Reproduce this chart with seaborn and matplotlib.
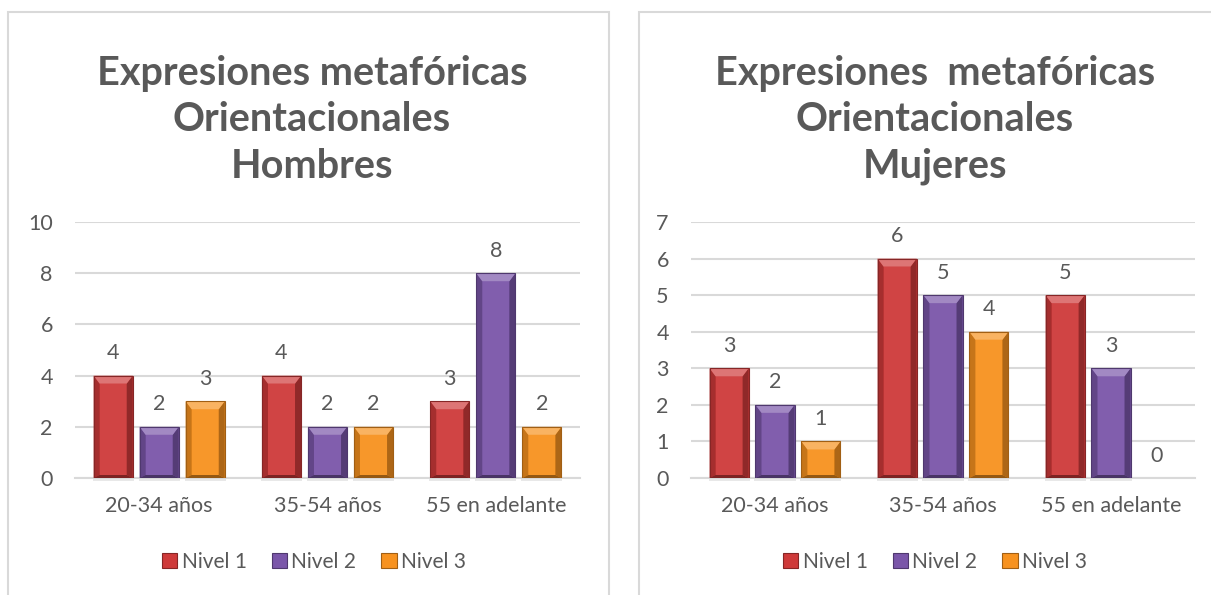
import matplotlib
matplotlib.use("Agg")
import matplotlib.pyplot as plt
import seaborn as sns
import pandas as pd
from matplotlib.patches import Polygon, Rectangle, Patch
from matplotlib.colors import to_rgb

# ---- data ----
groups = ["20-34 años", "35-54 años", "55 en adelante"]
levels = ["Nivel 1", "Nivel 2", "Nivel 3"]

hombres_nivel1 = [4, 4, 3]
hombres_nivel2 = [2, 2, 8]
hombres_nivel3 = [3, 2, 2]

mujeres_nivel1 = [3, 6, 5]
mujeres_nivel2 = [2, 5, 3]
mujeres_nivel3 = [1, 4, 0]

hombres_yticks = [0, 2, 4, 6, 8, 10]
mujeres_yticks = [0, 1, 2, 3, 4, 5, 6, 7]

hombres_title = ["Expresiones metafóricas", "Orientacionales", "Hombres"]
mujeres_title = ["Expresiones  metafóricas", "Orientacionales", "Mujeres"]

level_colors = {"Nivel 1": "#CE3A3A", "Nivel 2": "#7A56A9", "Nivel 3": "#F7921F"}
TEXT = "#595959"
GRID = "#D9D9D9"

sns.set_theme(style="white")
plt.rcParams["font.family"] = ["Lato", "DejaVu Sans"]

W, H, DPI = 1211, 595, 100
fig = plt.figure(figsize=(W / DPI, H / DPI), dpi=DPI)
fig.patch.set_facecolor("white")


def frame(x_px, y_px, w_px, h_px):
    """Axes rectangle from pixel box (top-left origin)."""
    return [x_px / W, 1 - (y_px + h_px) / H, w_px / W, h_px / H]


def tint(color, f):
    r, g, b = to_rgb(color)
    if f >= 0:
        return (r + (1 - r) * f, g + (1 - g) * f, b + (1 - b) * f)
    return (r * (1 + f), g * (1 + f), b * (1 + f))


def build_frame(n1, n2, n3):
    rows = []
    for lvl, vals in zip(levels, [n1, n2, n3]):
        for g, v in zip(groups, vals):
            rows.append({"grupo": g, "nivel": lvl, "valor": v})
    return pd.DataFrame(rows)


def bevel(ax):
    """Add a beveled look to every bar: light top face, darker sides and base."""
    pos = ax.get_position()
    ax_w = pos.width * W
    ax_h = pos.height * H
    x0, x1 = ax.get_xlim()
    y0, y1 = ax.get_ylim()
    dx = (x1 - x0) / ax_w
    dy = (y1 - y0) / ax_h
    for cont, lvl in zip(ax.containers, levels):
        base = level_colors[lvl]
        for bar in cont:
            h = bar.get_height()
            if h <= 0:
                continue
            bx0 = bar.get_x()
            bx1 = bx0 + bar.get_width()
            bxw = 6 * dx
            top = min(8 * dy, h * 0.45)
            bot = min(3 * dy, h * 0.2)
            # soft shadow under the bar
            ax.add_patch(Rectangle((bx0 - 1 * dx, -3 * dy), bx1 - bx0 + 2 * dx, 3 * dy,
                                   fc="#E8E8E8", ec="none", zorder=1.5, clip_on=False))
            # lighter central band of the face
            ax.add_patch(Rectangle((bx0 + bxw, bot), bx1 - bx0 - 2 * bxw, h - top - bot,
                                   fc=tint(base, 0.05), ec="none", zorder=3.1))
            ax.add_patch(Polygon([(bx0, 0), (bx0, h), (bx0 + bxw, h - top), (bx0 + bxw, bot)],
                                 closed=True, fc=tint(base, -0.2), ec="none", zorder=3.2))
            ax.add_patch(Polygon([(bx1, 0), (bx1, h), (bx1 - bxw, h - top), (bx1 - bxw, bot)],
                                 closed=True, fc=tint(base, -0.3), ec="none", zorder=3.2))
            ax.add_patch(Polygon([(bx0, 0), (bx1, 0), (bx1 - bxw, bot), (bx0 + bxw, bot)],
                                 closed=True, fc=tint(base, -0.4), ec="none", zorder=3.2))
            ax.add_patch(Polygon([(bx0, h), (bx1, h), (bx1 - bxw, h - top), (bx0 + bxw, h - top)],
                                 closed=True, fc=tint(base, 0.3), ec="none", zorder=3.3))
            ax.add_patch(Polygon([(bx0, 0), (bx1, 0), (bx1, h), (bx0, h)],
                                 closed=True, fc="none", ec=tint(base, -0.35),
                                 lw=0.8, zorder=3.4))


def panel(ax, df, yticks, title_lines, title_x, legend_x):
    sns.barplot(data=df, x="grupo", y="valor", hue="nivel", hue_order=levels,
                order=groups, palette=level_colors, width=0.82, gap=0.15,
                saturation=1, legend=False, ax=ax, zorder=3, edgecolor="none")
    ax.set_xlim(-0.5, len(groups) - 0.5)
    ax.set_ylim(0, yticks[-1])
    ax.set_yticks(yticks)
    ax.set_xlabel("")
    ax.set_ylabel("")
    ax.grid(axis="y", color=GRID, lw=1.5, zorder=0)
    ax.grid(axis="x", visible=False)
    ax.set_axisbelow(True)
    for s in ["top", "right", "left"]:
        ax.spines[s].set_visible(False)
    ax.spines["bottom"].set_color(GRID)
    ax.spines["bottom"].set_linewidth(1.5)
    ax.tick_params(axis="y", length=0, pad=16, labelsize=15.5, labelcolor=TEXT)
    ax.tick_params(axis="x", length=0, pad=13, labelsize=15.5, labelcolor=TEXT)
    ax.set_facecolor("none")

    bevel(ax)
    for cont in ax.containers:
        ax.bar_label(cont, fmt="{:.0f}", padding=9, fontsize=15.5, color=TEXT)

    for line, ypx in zip(title_lines, [73, 120, 166]):
        fig.text(title_x / W, 1 - ypx / H, line, ha="center", va="center",
                 fontsize=28.5, fontweight="bold", color=TEXT)

    handles = [Patch(fc=level_colors[l], ec=tint(level_colors[l], -0.35), lw=0.8) for l in levels]
    fig.legend(handles, levels, loc="center", bbox_to_anchor=(legend_x / W, 1 - 562 / H),
               ncol=3, frameon=False, fontsize=15, labelcolor=TEXT,
               handlelength=0.75, handleheight=0.75, handletextpad=0.2,
               columnspacing=1.2, borderaxespad=0)


# panel frames
fig.add_artist(Rectangle((8 / W, -0.05), (609 - 8) / W, 1 - 12 / H + 0.05,
                         transform=fig.transFigure, fill=False, ec=GRID, lw=1.5))
fig.add_artist(Rectangle((639 / W, -0.05), (W + 20 - 639) / W, 1 - 12 / H + 0.05,
                         transform=fig.transFigure, fill=False, ec=GRID, lw=1.5))

ax_h = fig.add_axes(frame(75, 222, 505, 256))
ax_m = fig.add_axes(frame(691, 222, 504, 256))

panel(ax_h, build_frame(hombres_nivel1, hombres_nivel2, hombres_nivel3),
      hombres_yticks, hombres_title, 312, 314)
panel(ax_m, build_frame(mujeres_nivel1, mujeres_nivel2, mujeres_nivel3),
      mujeres_yticks, mujeres_title, 935, 935)

fig.savefig("out.png", dpi=DPI, facecolor="white")
